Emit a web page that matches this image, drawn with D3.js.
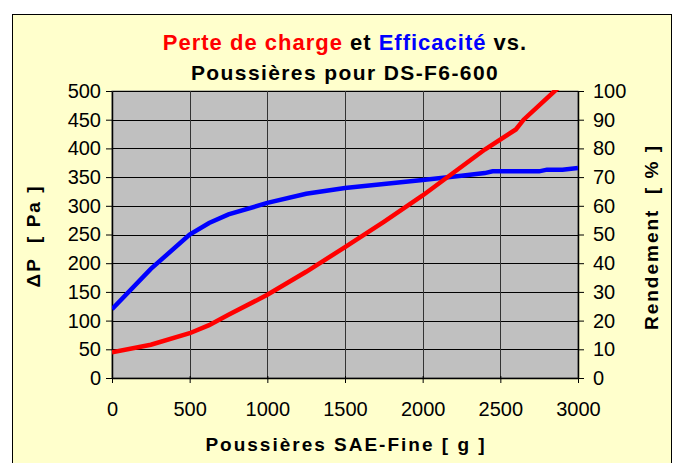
<!DOCTYPE html>
<html>
<head>
<meta charset="utf-8">
<script src="https://cdn.jsdelivr.net/npm/d3@7"></script>
<style>
  body { margin: 0; background: #fff; }
  text { font-family: "Liberation Sans", Arial, sans-serif; }
</style>
</head>
<body>
<div id="chart"></div>
<script>
// Données
const poussieres = [0, 250, 500, 625, 750, 1000, 1250, 1500, 1750, 2000, 2250, 2400, 2600, 2650, 2850, 3000];
const perteCharge = [45, 58, 78, 92, 110, 145, 185, 228, 272, 318, 368, 398, 433, 450, 500, 535];

const poussieresEff = [0, 250, 500, 625, 750, 1000, 1250, 1500, 1750, 2000, 2250, 2400, 2450, 2750, 2800, 2900, 3000];
const rendement = [24, 38, 50, 54, 57, 61, 64.2, 66.2, 67.6, 69, 70.5, 71.4, 72, 72, 72.6, 72.6, 73.2];

const xTicks = [0, 500, 1000, 1500, 2000, 2500, 3000];
const yTicks = [0, 50, 100, 150, 200, 250, 300, 350, 400, 450, 500];
const y2Ticks = [0, 10, 20, 30, 40, 50, 60, 70, 80, 90, 100];

const width = 681, height = 463;
const margin = { left: 112, right: 103, top: 91, bottom: 85 };

const svg = d3.select("#chart").append("svg")
    .attr("width", width)
    .attr("height", height);

// fond et cadre
svg.append("rect")
    .attr("x", 12.5).attr("y", 14.5)
    .attr("width", 659).attr("height", 460)
    .attr("fill", "#FFFFCC")
    .attr("stroke", "#000").attr("stroke-width", 1);

const x = d3.scaleLinear().domain([0, 3000]).range([margin.left, width - margin.right]);
const y = d3.scaleLinear().domain([0, 500]).range([height - margin.bottom, margin.top]);
const y2 = d3.scaleLinear().domain([0, 100]).range([height - margin.bottom, margin.top]);

svg.append("rect")
    .attr("x", x(0)).attr("y", y(500))
    .attr("width", x(3000) - x(0)).attr("height", y(0) - y(500))
    .attr("fill", "#C0C0C0")
    .attr("stroke", "#808080");

// grille
svg.append("g")
    .selectAll("line")
    .data(yTicks)
    .enter().append("line")
    .attr("x1", x(0)).attr("x2", x(3000))
    .attr("y1", d => Math.round(y(d)) + 0.5).attr("y2", d => Math.round(y(d)) + 0.5)
    .attr("stroke", "#000").attr("stroke-width", 1);

svg.append("g")
    .selectAll("line")
    .data(xTicks)
    .enter().append("line")
    .attr("x1", d => Math.round(x(d)) + 0.5).attr("x2", d => Math.round(x(d)) + 0.5)
    .attr("y1", y(0)).attr("y2", y(500))
    .attr("stroke", "#333").attr("stroke-width", 1);

// axes
const xAxis = svg.append("g")
    .attr("transform", `translate(0,${y(0)})`)
    .call(d3.axisBottom(x).tickValues(xTicks).tickFormat(d3.format("d"))
        .tickSize(5).tickSizeOuter(0).tickPadding(19));

const yAxis = svg.append("g")
    .attr("transform", `translate(${x(0)},0)`)
    .call(d3.axisLeft(y).tickValues(yTicks).tickSize(6).tickSizeOuter(0).tickPadding(5));

const y2Axis = svg.append("g")
    .attr("transform", `translate(${x(3000)},0)`)
    .call(d3.axisRight(y2).tickValues(y2Ticks).tickSize(6).tickSizeOuter(0).tickPadding(9));

[xAxis, yAxis, y2Axis].forEach(a => {
    a.selectAll("text").attr("font-size", 20).attr("fill", "#000")
        .style("font-family", '"Liberation Sans", Arial, sans-serif');
    a.selectAll("line").attr("stroke", "#000");
    a.select(".domain").attr("stroke", "#000").attr("stroke-width", 1.5);
});
xAxis.selectAll(".tick line").attr("transform", "translate(0,-2)").attr("y2", 7);

// courbes
svg.append("clipPath").attr("id", "clip")
    .append("rect")
    .attr("x", x(0)).attr("y", y(500) - 1)
    .attr("width", x(3000) - x(0)).attr("height", y(0) - y(500) + 1);

const lignePerte = d3.line()
    .x((d, i) => x(poussieres[i]))
    .y(d => y(d));

const ligneRend = d3.line()
    .x((d, i) => x(poussieresEff[i]))
    .y(d => y2(d));

svg.append("path")
    .datum(rendement)
    .attr("d", ligneRend)
    .attr("fill", "none")
    .attr("stroke", "#0000FF")
    .attr("stroke-width", 4.5)
    .attr("clip-path", "url(#clip)");

svg.append("path")
    .datum(perteCharge)
    .attr("d", lignePerte)
    .attr("fill", "none")
    .attr("stroke", "#FF0000")
    .attr("stroke-width", 4.5)
    .attr("clip-path", "url(#clip)");

// titres
const titre = svg.append("text")
    .attr("x", 345).attr("y", 50)
    .attr("text-anchor", "middle")
    .attr("font-size", 22).attr("font-weight", "bold")
    .attr("letter-spacing", 1);
titre.append("tspan").attr("fill", "#FF0000").text("Perte de charge");
titre.append("tspan").attr("fill", "#000").text(" et ");
titre.append("tspan").attr("fill", "#0000FF").text("Efficacité");
titre.append("tspan").attr("fill", "#000").text(" vs.");

svg.append("text")
    .attr("x", 345).attr("y", 80)
    .attr("text-anchor", "middle")
    .attr("font-size", 21).attr("font-weight", "bold")
    .attr("letter-spacing", 1.4)
    .text("Poussières pour DS-F6-600");

svg.append("text")
    .attr("x", 346).attr("y", 451)
    .attr("text-anchor", "middle")
    .attr("font-size", 19).attr("font-weight", "bold")
    .attr("letter-spacing", 2)
    .text("Poussières SAE-Fine [ g ]");

svg.append("text")
    .attr("transform", `translate(40,236) rotate(-90)`)
    .attr("text-anchor", "middle")
    .attr("font-size", 19).attr("font-weight", "bold")
    .attr("letter-spacing", 2)
    .attr("xml:space", "preserve")
    .text("ΔP  [ Pa ]");

svg.append("text")
    .attr("transform", `translate(658,237) rotate(-90)`)
    .attr("text-anchor", "middle")
    .attr("font-size", 19).attr("font-weight", "bold")
    .attr("letter-spacing", 2)
    .attr("xml:space", "preserve")
    .text("Rendement  [ % ]");
</script>
</body>
</html>
